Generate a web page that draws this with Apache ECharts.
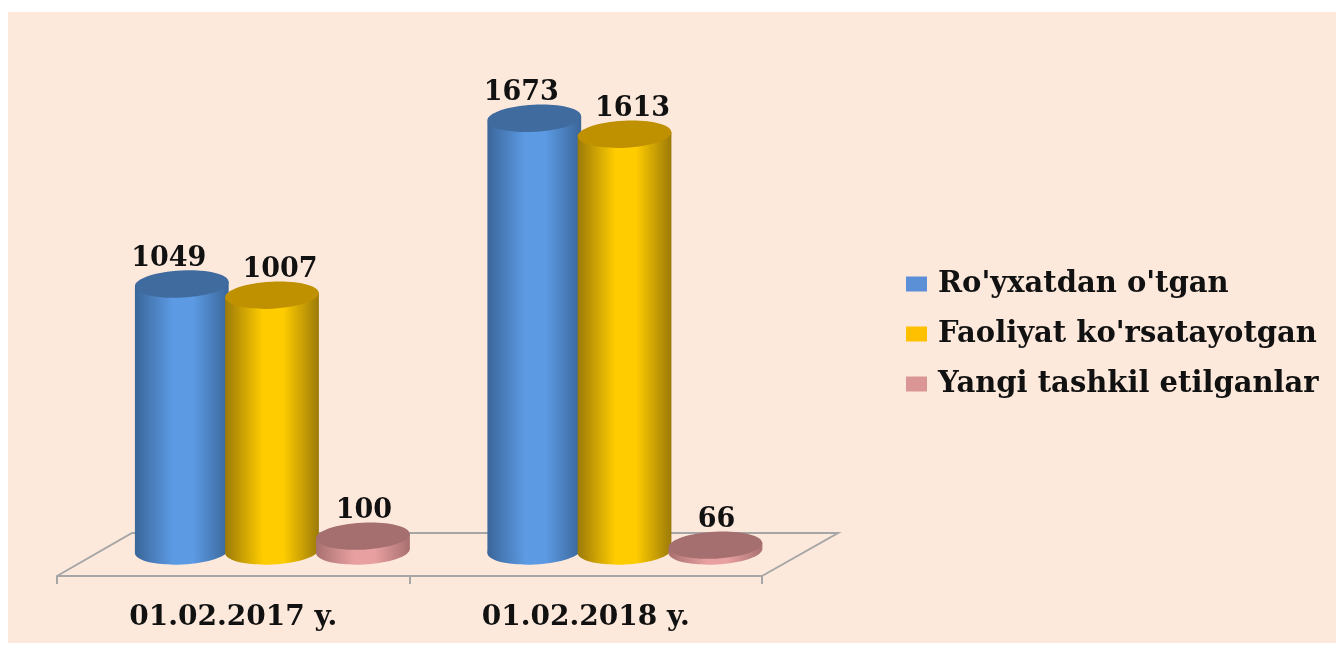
<!DOCTYPE html>
<html><head><meta charset="utf-8">
<style>html,body{margin:0;padding:0;background:#fff}#c{width:1336px;height:645px}</style>
<script src="https://cdn.jsdelivr.net/npm/echarts@6/dist/echarts.min.js"></script>
</head><body><div id="c"></div>
<script>
const categories = ['01.02.2017 y.', '01.02.2018 y.'];
const seriesNames = ["Ro'yxatdan o'tgan", "Faoliyat ko'rsatayotgan", 'Yangi tashkil etilganlar'];
const registered = [1049, 1673];
const active = [1007, 1613];
const newlyCreated = [100, 66];

const FONT = 'DejaVu Serif';
const looks = [
  {legend:'#5b8fd6', edge:'#3a6699', mid:'#5c9ae3', top:'#3f6b9f', shift:-0.292, labelDx:-13},
  {legend:'#ffc000', edge:'#9c7a08', mid:'#ffcc00', top:'#bf9000', shift:-0.036, labelDx:8},
  {legend:'#d99694', edge:'#a87070', mid:'#e8a0a0', top:'#a56f70', shift:0.222, labelDx:1}
];
const BASE_VALUE = 44, WIDTH_FRAC = 0.133, RY = 13.5, TILT = 0.05;

function cylinder(i){
  const k = looks[i];
  return function(params, api){
    const band = api.size([1,0])[0];
    const cx = api.coord([api.value(0),0])[0] + band*(k.shift+0.146);
    const yTop = api.coord([0,api.value(1)])[1];
    const yBase = api.coord([0,BASE_VALUE])[1];
    const rx = band*WIDTH_FRAC;
    const d = rx*Math.sin(TILT);
    const fill = new echarts.graphic.LinearGradient(0,0,1,0,[
      {offset:0,color:k.edge},{offset:0.4,color:k.mid},{offset:0.62,color:k.mid},{offset:1,color:k.edge}]);
    const rim = (y,f)=>({type:'ellipse',shape:{cx:cx,cy:y,rx:rx,ry:RY},rotation:TILT,originX:cx,originY:y,style:{fill:f}});
    return {type:'group',children:[
      rim(yBase,fill),
      {type:'polygon',shape:{points:[[cx-rx,yTop+d],[cx+rx,yTop-d],[cx+rx,yBase-d],[cx-rx,yBase+d]]},style:{fill:fill}},
      rim(yTop,k.top),
      {type:'text',style:{text:String(api.value(1)),x:cx+k.labelDx,y:yTop-25,align:'center',verticalAlign:'middle',
        fontFamily:FONT,fontWeight:'bold',fontSize:27,fill:'#111'},z2:10}
    ]};
  };
}
const seriesData = [registered, active, newlyCreated];
const chart = echarts.init(document.getElementById('c'),null,{renderer:'canvas'});
chart.setOption({
  animation:false,
  graphic:[
    {type:'rect',z:-10,shape:{x:8,y:12,width:1328,height:631},style:{fill:'#fde9dc'}},
    {type:'polyline',z:-5,shape:{points:[[57,576],[132,533],[838,533],[762,576]]},style:{stroke:'#a6a6a6',lineWidth:2,fill:'none'}}
  ],
  grid:{left:57,right:574,top:58,bottom:69},
  xAxis:{type:'category',data:categories,
    axisLine:{onZero:false,lineStyle:{color:'#a6a6a6',width:2}},
    axisTick:{show:true,length:8,lineStyle:{color:'#a6a6a6',width:2}},
    axisLabel:{margin:28,fontFamily:FONT,fontWeight:'bold',fontSize:28,color:'#111'}},
  yAxis:{type:'value',min:-50,max:1900,show:false,splitLine:{show:false}},
  legend:{orient:'vertical',left:901,top:260,itemWidth:21,itemHeight:15,itemGap:12,icon:'rect',
    data:seriesNames,
    textStyle:{fontFamily:FONT,fontWeight:'bold',fontSize:29,lineHeight:30,color:'#111',padding:[8,0,0,6]}},
  series:seriesData.map((vals,i)=>({
    type:'custom',name:seriesNames[i],coordinateSystem:'cartesian2d',
    itemStyle:{color:looks[i].legend},
    encode:{x:0,y:1},clip:false,
    renderItem:cylinder(i),
    data:vals.map((v,j)=>[j,v])
  }))
});
</script></body></html>
